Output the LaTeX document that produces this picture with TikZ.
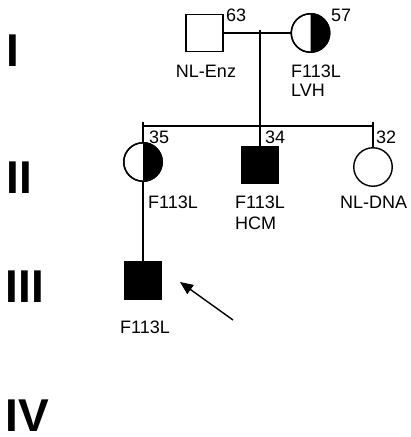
\documentclass[tikz,border=0pt]{standalone}
\usepackage{fontspec}
\setmainfont{Liberation Sans}
\usetikzlibrary{arrows.meta}
\begin{document}
\begin{tikzpicture}[x=1pt,y=-1pt,
  lbl/.style={font=\fontsize{18}{20}\selectfont, inner sep=0pt, anchor=base west},
  gen/.style={font=\fontsize{46}{46}\selectfont\bfseries, inner sep=0pt, anchor=base west},
  male/.style={draw, line width=1.4pt, minimum size=37pt, inner sep=0pt},
  female/.style={draw, circle, line width=1.4pt, minimum size=38.5pt, inner sep=0pt},
  affected/.style={fill=black},
  rel/.style={line width=2pt}]
\useasboundingbox (0,0) rectangle (411,437);
% generation numerals
\node[gen] (gI) at (6.5,66) {I};
\node[gen] (gII) at (6.5,193) {II};
\node[gen] (gIII) at (5.5,302) {III};
\node[gen] (gIV) at (5.5,431) {IV};
% generation I
\node[male] (sq1) at (204.5,33) {};
\node[female] (c1) at (310.5,33) {};
\fill (c1.center) -- (c1.north) arc[start angle=90, end angle=-90, radius=19.25pt] -- cycle;
\node[female] (c1o) at (310.5,33) {};
\node[lbl] (n63) at (226,21.5) {63};
\node[lbl] (n57) at (331,21) {57};
\node[lbl, anchor=base] (tNL) at (206,77.5) {NL-Enz};
\node[lbl] (t12a) at (291,77.5) {F113L};
\node[lbl] (t12b) at (291,96) {LVH};
% generation II
\node[female] (c2) at (143,162) {};
\fill (c2.center) -- (c2.north) arc[start angle=90, end angle=-90, radius=19.25pt] -- cycle;
\node[female] (c2o) at (143,162) {};
\node[male, affected] (sq2) at (260,165) {};
\node[female] (c3) at (373,167) {};
\node[lbl] (n35) at (149,143) {35};
\node[lbl] (n34) at (265,143) {34};
\node[lbl] (n32) at (376,143) {32};
\node[lbl] (t21) at (148,208) {F113L};
\node[lbl] (t22a) at (235,208) {F113L};
\node[lbl] (t22b) at (235,229.5) {HCM};
\node[lbl] (t23) at (340,208) {NL-DNA};
% generation III
\node[male, affected] (sq3) at (143,280.5) {};
\node[lbl, anchor=base] (t31) at (145,333.5) {F113L};
% connectors
\coordinate (mtop) at (260,29.5);
\coordinate (sib) at (260,126);
\draw[rel] (sq1.east) -- (c1.west);
\draw[rel] (mtop) -- (sq2.north);
\draw[rel] (c2.north |- sib) -- (c3.north |- sib);
\draw[rel] ([yshift=4pt]c2.north |- sib) -- (c2.north);
\draw[rel] ([yshift=4pt]c3.north |- sib) -- (c3.north);
\draw[rel] (c2.south) -- (sq3.north);
% proband arrow
\coordinate (atail) at (233,320);
\coordinate (ahead) at (180,282);
\draw[line width=1.4pt, -{Triangle[length=13pt, width=11pt]}] (atail) -- (ahead);
\end{tikzpicture}
\end{document}
